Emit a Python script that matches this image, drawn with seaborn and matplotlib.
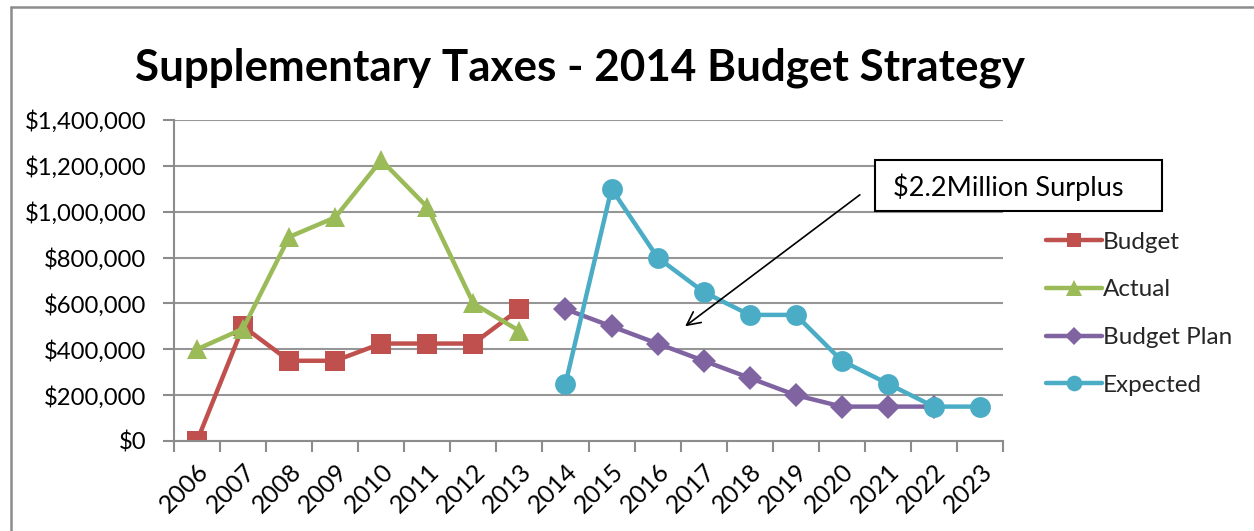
import matplotlib
matplotlib.use("Agg")
import matplotlib.pyplot as plt
from matplotlib.lines import Line2D
from matplotlib.patches import Rectangle
from matplotlib.ticker import FuncFormatter, FixedLocator
import numpy as np
import pandas as pd
import seaborn as sns

# ---- data ----
years = list(range(2006, 2024))
budget_years = list(range(2006, 2014))
budget = [0, 500000, 350000, 350000, 425000, 425000, 425000, 575000]
actual = [400000, 490000, 890000, 975000, 1225000, 1020000, 600000, 480000]
plan_years = list(range(2014, 2023))
budget_plan = [575000, 500000, 425000, 350000, 275000, 200000, 150000, 150000, 150000]
expected_years = list(range(2014, 2024))
expected = [250000, 1100000, 800000, 650000, 550000, 550000, 350000, 250000, 150000, 150000]
series_names = ["Budget", "Actual", "Budget Plan", "Expected"]
title = "Supplementary Taxes - 2014 Budget Strategy"
note = "$2.2Million Surplus"

frames = [
    pd.DataFrame({"year": budget_years, "value": budget, "series": "Budget"}),
    pd.DataFrame({"year": budget_years, "value": actual, "series": "Actual"}),
    pd.DataFrame({"year": plan_years, "value": budget_plan, "series": "Budget Plan"}),
    pd.DataFrame({"year": expected_years, "value": expected, "series": "Expected"}),
]
df = pd.concat(frames, ignore_index=True)

palette = {"Budget": "#C0504D", "Actual": "#9BBB59",
           "Budget Plan": "#8064A2", "Expected": "#4BACC6"}
markers = {"Budget": "s", "Actual": "^", "Budget Plan": "D", "Expected": "o"}
msizes = {"Budget": 14, "Actual": 15, "Budget Plan": 12, "Expected": 15}

sns.set_theme(style="white")
plt.rcParams["font.family"] = ["Lato", "DejaVu Sans"]

W, H = 1254, 531
fig = plt.figure(figsize=(W / 100, H / 100), dpi=100)
ax = fig.add_axes([174 / W, 1 - 441 / H, (1003 - 174) / W, (441 - 120) / H])

for name in series_names:
    sub = df[df["series"] == name]
    sns.lineplot(data=sub, x="year", y="value", ax=ax, color=palette[name],
                 marker=markers[name], markersize=msizes[name],
                 markeredgewidth=0, linewidth=3.2, label=name, sort=False,
                 estimator=None)

ax.set_xlim(2005.5, 2023.5)
ax.set_ylim(0, 1400000)
ax.yaxis.set_major_locator(FixedLocator(np.arange(0, 1400001, 200000)))
ax.yaxis.set_major_formatter(FuncFormatter(lambda v, p: f"${v:,.0f}"))
ax.set_xticks(years)
ax.set_xticklabels([str(y) for y in years], rotation=45, ha="right",
                   rotation_mode="anchor", fontsize=18)
ax.set_xticks(np.arange(2005.5, 2024, 1), minor=True)
ax.tick_params(axis="x", which="major", length=0, pad=13)
ax.tick_params(axis="x", which="minor", length=8, width=1.5, color="#8C8C8C",
               direction="out", bottom=True)
ax.tick_params(axis="y", length=8, width=1.5, color="#8C8C8C", direction="out",
               left=True, labelsize=17.2, pad=12)
ax.set_xlabel("")
ax.set_ylabel("")
ax.grid(axis="y", color="#969696", linewidth=1.5)
ax.grid(axis="x", visible=False)
ax.set_axisbelow(True)
for side in ["top", "right"]:
    ax.spines[side].set_visible(False)
for side in ["left", "bottom"]:
    ax.spines[side].set_color("#8C8C8C")
    ax.spines[side].set_linewidth(1.5)
for lbl in ax.get_xticklabels() + ax.get_yticklabels():
    lbl.set_color("#000000")

# legend to the right of the plot area
handles, labels = ax.get_legend_handles_labels()
ax.legend(handles, labels, loc="upper left", bbox_to_anchor=(1036 / W, 1 - 222 / H),
          bbox_transform=fig.transFigure, frameon=False, fontsize=17.5,
          handlelength=2.3, handletextpad=0.05, labelspacing=1.1,
          borderaxespad=0, markerscale=0.75)

# title
fig.text(580 / W, 1 - 68 / H, title, ha="center", va="center",
         fontsize=31.7, fontweight="bold", color="#000000")

# surplus note with arrow
ax.annotate("", xy=(2016.55, 493000), xytext=(2020.44, 1081000),
            arrowprops=dict(arrowstyle="->", color="black", lw=1.2,
                            mutation_scale=24), annotation_clip=False)
fig.add_artist(Rectangle((875 / W, 1 - 211 / H), (1162 - 875) / W, (211 - 160) / H,
                         transform=fig.transFigure, facecolor="white",
                         edgecolor="black", linewidth=1.5))
fig.text(1008 / W, 1 - 187 / H, note, ha="center", va="center",
         fontsize=19.5, color="#000000")

# chart frame (left and top edges visible)
fig.add_artist(Line2D([11 / W, 11 / W], [0, 1 - 7 / H],
                      transform=fig.transFigure, color="#8C8C8C", lw=1.8))
fig.add_artist(Line2D([11 / W, 1], [1 - 7 / H, 1 - 7 / H],
                      transform=fig.transFigure, color="#8C8C8C", lw=1.8))

fig.savefig("out.png", dpi=100, facecolor="white")
